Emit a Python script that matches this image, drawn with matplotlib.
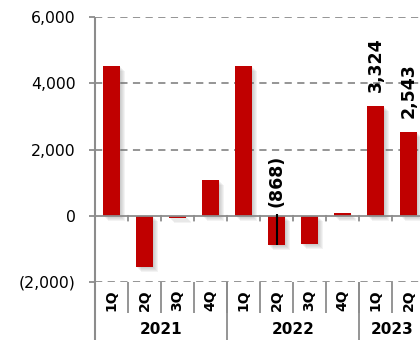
import matplotlib
matplotlib.use("Agg")
import matplotlib.pyplot as plt
import matplotlib.transforms as mtransforms

plt.rcParams['font.family'] = ['DejaVu Sans']

quarters = ["1Q", "2Q", "3Q", "4Q", "1Q", "2Q", "3Q", "4Q", "1Q", "2Q"]
years = ["2021", "2022", "2023"]
year_sizes = [4, 4, 2]
values = [4520, -1540, -60, 1070, 4520, -868, -840, 90, 3324, 2543]
labelled = {5: "(868)", 8: "3,324", 9: "2,543"}
yticks = [-2000, 0, 2000, 4000, 6000]
ytick_labels = ["(2,000)", "0", "2,000", "4,000", "6,000"]

RED = "#C00000"
GRID = "#8C8C8C"

fig = plt.figure(figsize=(4.2, 3.4), dpi=100)
ax = fig.add_axes([95 / 420, 1 - 282 / 340, 330 / 420, 265 / 340])
ax.set_xlim(-0.5, len(values) - 0.5)
ax.set_ylim(-2000, 6000)

x = list(range(len(values)))

# soft drop shadow under each bar
for k in range(1, 6):
    tr = mtransforms.offset_copy(ax.transData, fig=fig, x=k, y=-k, units='dots')
    ax.bar(x, values, width=0.5, color="#606060", alpha=0.07, transform=tr,
           zorder=2, linewidth=0)
ax.bar(x, values, width=0.5, color=RED, zorder=3, linewidth=0)

# gridlines and zero line
for yv in yticks:
    if yv != 0:
        ax.axhline(yv, color=GRID, lw=1.3, ls=(0, (4, 3)), zorder=1)
ax.axhline(0, color=GRID, lw=1.3, zorder=4)

# short ticks under the zero line at category boundaries
xa = ax.get_xaxis_transform()
for b in range(1, len(values)):
    ax.annotate("", xy=(b - 0.5, 0), xycoords='data',
                xytext=(0, -5), textcoords='offset pixels',
                arrowprops=dict(arrowstyle='-', color=GRID, lw=1.3,
                                shrinkA=0, shrinkB=0))

# y axis
for s in ax.spines.values():
    s.set_visible(False)
ax.plot([-0.5, -0.5], [1, -0.22], transform=xa, color=GRID, lw=1.5,
        clip_on=False, zorder=5, solid_capstyle='butt')
ax.set_yticks(yticks)
ax.set_yticklabels(ytick_labels, fontsize=11.3)
ax.tick_params(axis='y', length=4, width=1.3, color=GRID, pad=10)
ax.set_xticks([])

# quarter dividers and labels
for b in range(1, len(values) + 1):
    ax.plot([b - 0.5, b - 0.5], [0, -0.117], transform=xa, color=GRID,
            lw=1.3, clip_on=False, solid_capstyle='butt')
for i, q in enumerate(quarters):
    ax.text(i, -0.07, q, transform=xa, rotation=90, ha='center',
            va='center', fontsize=10, fontweight='bold', clip_on=False)

# year dividers and labels
start = 0
for yr, n in zip(years, year_sizes):
    ax.plot([start - 0.5, start - 0.5], [0, -0.22], transform=xa, color=GRID,
            lw=1.3, clip_on=False, solid_capstyle='butt')
    ax.text(start + n / 2 - 0.5, -0.181, yr, transform=xa, ha='center',
            va='center', fontsize=11, fontweight='bold', clip_on=False)
    start += n

# value labels
for i, txt in labelled.items():
    v = values[i]
    base = max(v, 0)
    ax.annotate(txt, xy=(i, base), xytext=(0, 9.5 if v > 0 else 6.5),
                textcoords='offset points', rotation=90, ha='center',
                va='bottom', fontsize=12.5, fontweight='bold', zorder=6)
    if v < 0:
        ax.plot([i, i], [60, v], color='black', lw=1.5, zorder=6,
                solid_capstyle='butt')

fig.savefig("out.png", dpi=100)
